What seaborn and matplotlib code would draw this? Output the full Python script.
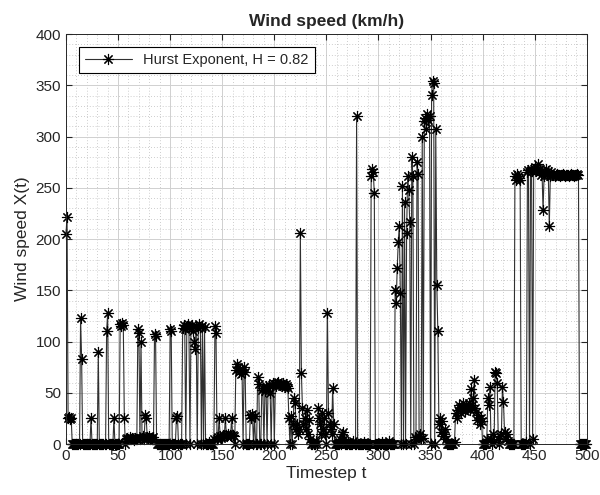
import numpy as np
import pandas as pd
import matplotlib
matplotlib.use("Agg")
import matplotlib.pyplot as plt
import seaborn as sns
from matplotlib.ticker import MultipleLocator

# ---- data ----
wind_speed = [
    205, 222, 25, 26, 24, 25, 0, 0, 0, 0, 0, 0, 0, 0, 123, 83, 0, 0, 0, 0,
    0, 0, 0, 0, 25, 0, 0, 0, 0, 0, 0, 90, 0, 0, 0, 0, 0, 0, 0, 110,
    128, 0, 0, 0, 0, 0, 25, 0, 0, 0, 0, 0, 117, 115, 118, 116, 25, 0, 5, 6,
    5, 7, 5, 6, 5, 4, 6, 5, 5, 112, 108, 5, 100, 6, 8, 5, 28, 25, 7, 6,
    8, 5, 6, 5, 7, 107, 105, 0, 0, 0, 0, 0, 0, 0, 0, 0, 0, 0, 0, 0,
    112, 110, 0, 0, 0, 0, 25, 27, 0, 0, 0, 0, 113, 116, 112, 0, 115, 117, 114, 0,
    113, 116, 110, 100, 93, 115, 0, 113, 117, 114, 0, 115, 0, 114, 0, 0, 0, 2, 0, 0,
    0, 0, 5, 115, 108, 5, 7, 25, 8, 6, 7, 9, 8, 25, 9, 8, 10, 9, 8, 25,
    9, 8, 0, 72, 78, 75, 70, 73, 68, 72, 0, 75, 70, 0, 0, 0, 0, 28, 25, 29,
    0, 27, 0, 0, 65, 59, 0, 0, 53, 55, 0, 52, 57, 0, 55, 58, 50, 0, 58, 60,
    0, 59, 57, 60, 61, 58, 59, 57, 60, 58, 56, 59, 57, 55, 25, 0, 27, 0, 20, 45,
    40, 15, 20, 10, 15, 206, 69, 35, 20, 25, 15, 33, 10, 23, 5, 0, 0, 2, 0, 0,
    3, 0, 35, 25, 20, 10, 30, 15, 25, 10, 0, 128, 30, 20, 15, 10, 55, 20, 0, 0,
    0, 0, 0, 5, 0, 10, 12, 5, 0, 0, 0, 2, 0, 0, 0, 0, 3, 0, 0, 320,
    0, 0, 0, 0, 0, 0, 2, 0, 0, 0, 0, 0, 0, 262, 268, 265, 245, 0, 0, 0,
    0, 0, 0, 2, 0, 0, 0, 0, 0, 0, 3, 0, 0, 0, 0, 0, 150, 138, 172, 197,
    213, 147, 0, 252, 0, 236, 0, 206, 262, 248, 217, 0, 280, 262, 0, 7, 5, 275, 264, 8,
    10, 5, 300, 6, 315, 318, 307, 322, 316, 320, 0, 341, 354, 352, 0, 307, 155, 110, 20, 25,
    12, 22, 8, 10, 15, 5, 0, 0, 0, 0, 0, 0, 0, 2, 30, 25, 33, 38, 35, 30,
    36, 40, 35, 32, 38, 34, 36, 40, 33, 54, 38, 45, 62, 35, 31, 23, 28, 20, 25, 22,
    0, 0, 0, 0, 5, 45, 38, 56, 5, 0, 10, 2, 70, 69, 60, 5, 0, 8, 10, 56,
    41, 12, 5, 10, 3, 0, 0, 0, 0, 0, 0, 262, 258, 264, 262, 260, 258, 0, 0, 0,
    0, 0, 2, 265, 267, 0, 268, 266, 5, 268, 270, 266, 268, 273, 265, 268, 263, 266, 228, 262,
    265, 268, 263, 266, 213, 262, 265, 263, 263, 262, 263, 264, 263, 263, 262, 263, 263, 264, 263, 262,
    263, 263, 263, 262, 263, 264, 263, 263, 262, 263, 263, 264, 263, 0, 0, 0, 0, 0, 0, 0,
]
timestep = list(range(len(wind_speed)))
legend_label = "Hurst Exponent, H = 0.82"
x_ticks = [0, 50, 100, 150, 200, 250, 300, 350, 400, 450, 500]
y_ticks = [0, 50, 100, 150, 200, 250, 300, 350, 400]

df = pd.DataFrame({"t": timestep, "x": wind_speed})

sns.set_style("ticks")
plt.rcParams["font.family"] = ["Liberation Sans", "DejaVu Sans"]

fig = plt.figure(figsize=(6.0, 4.95), dpi=100)
ax = fig.add_axes([0.110, 0.103, 0.868, 0.828])

sns.lineplot(data=df, x="t", y="x", ax=ax, color="#303030", linewidth=0.8,
             marker=(8, 2, 0), markersize=8, markeredgewidth=0.8,
             markeredgecolor="black", markerfacecolor="black",
             label=legend_label, estimator=None)
for ln in ax.get_lines():
    ln.set_clip_on(False)

ax.set_xlim(0, 500)
ax.set_ylim(0, 400)
ax.set_xticks(x_ticks)
ax.set_yticks(y_ticks)
ax.xaxis.set_minor_locator(MultipleLocator(10))
ax.yaxis.set_minor_locator(MultipleLocator(10))
ax.grid(which="major", color="#d0d0d0", linewidth=0.7, linestyle="-")
ax.grid(which="minor", color="#bdbdbd", linewidth=0.6, linestyle=(0, (1, 2.5)))
ax.set_axisbelow(True)
ax.tick_params(which="both", direction="in", top=True, right=True, labelsize=11,
               colors="#262626")
ax.tick_params(which="major", length=4)
ax.tick_params(which="minor", length=0)
for s in ax.spines.values():
    s.set_color("#262626")
    s.set_linewidth(0.7)

ax.set_title("Wind speed (km/h)", fontsize=12.5, fontweight="bold", pad=6)
ax.set_xlabel("Timestep t", fontsize=12.5, labelpad=2)
ax.set_ylabel("Wind speed X(t)", fontsize=12.5, labelpad=4)

leg = ax.legend(loc="upper left", fontsize=10.5, frameon=True, fancybox=False,
                edgecolor="black", framealpha=1, borderaxespad=0.9,
                handlelength=3.2, borderpad=0.4)
leg.get_frame().set_linewidth(0.8)

fig.savefig("out.png", dpi=100)
